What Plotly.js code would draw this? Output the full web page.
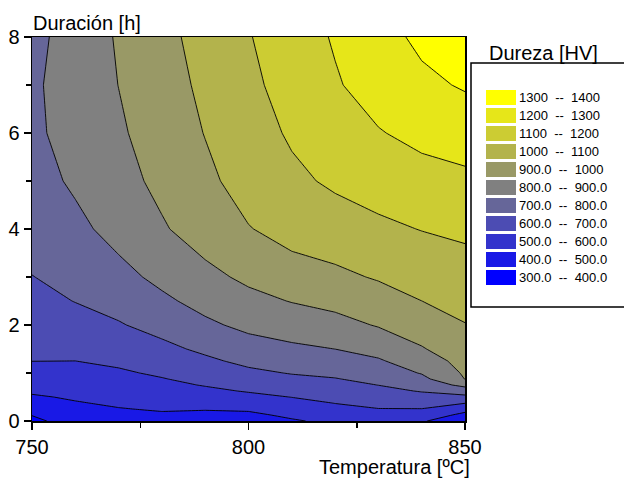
<!DOCTYPE html>
<html><head><meta charset="utf-8">
<script src="https://cdn.plot.ly/plotly-3.0.1.min.js"></script>
<style>html,body{margin:0;padding:0;background:#fff;}#chart{width:624px;height:478px;}</style>
</head><body><div id="chart"></div>
<script>
// Temperatura [ºC] (columns)
const temperatura = [750, 760, 770, 780, 790, 800, 810, 820, 830, 840, 850];
// Duración [h] (rows)
const duracion = [0, 0.125, 0.25, 0.375, 0.5, 0.625, 0.75, 0.875, 1, 1.25, 1.5, 2, 2.5, 3, 4, 5, 6, 7, 8];
// Dureza [HV], one row per duración value, estimated from the contour lines
const dureza = [
  [374, 450, 466, 472, 458, 455, 489.7, 522, 550, 508, 445],
  [403.4, 465, 481, 489.7, 480, 480.9, 517.8, 550, 575, 560, 475],
  [432.4, 480, 496.4, 507.4, 505.5, 512.8, 545.8, 578, 597.8, 598.2, 532.1],
  [461.4, 494.7, 511.7, 525.1, 530.8, 544.7, 573.8, 602, 623.7, 634.1, 603.6],
  [490.3, 509.8, 527, 542.8, 556.1, 576.6, 601.7, 625.5, 649.6, 670, 675.9],
  [512, 524.8, 542.3, 560.5, 581.4, 606.6, 628, 649, 675.4, 705.7, 748.2],
  [530, 539.8, 557.7, 578.2, 605.2, 631.1, 654.1, 672.5, 701.1, 740.2, 825.4],
  [548, 554.9, 573, 595.9, 624.5, 655.7, 680.3, 696.1, 723.3, 774.7, 901.8],
  [566, 569.9, 588.3, 612.4, 643.9, 680.3, 704.9, 717.3, 745.6, 805.8, 912.3],
  [600.8, 599.8, 615.8, 644.6, 682.6, 722.3, 744, 758.8, 790, 849.5, 933.5],
  [614.7, 620.9, 641.5, 676.9, 717.7, 759.4, 783, 800.3, 830.8, 893.1, 954.7],
  [642.4, 662.6, 692.9, 732, 782.3, 823, 846, 868.3, 906.8, 947.8, 997],
  [670.2, 702.5, 732.7, 781.7, 831.4, 873.8, 903.8, 927.7, 959.4, 999.8, 1027.9],
  [698, 727, 770.6, 823.8, 874.7, 918.7, 965, 979.7, 1008.3, 1034.3, 1057.9],
  [743, 775.8, 833.5, 890, 945, 996, 1030.3, 1056.5, 1080.8, 1102.9, 1118.4],
  [762, 814.9, 866.7, 923.6, 980, 1036.7, 1080.5, 1115, 1142.7, 1165.2, 1180.3],
  [781.8, 835, 887, 945, 1003, 1058.8, 1112, 1158.5, 1194.4, 1225.4, 1244.2],
  [784.7, 842.7, 901, 959.8, 1019.3, 1079.6, 1135.7, 1190.9, 1239.7, 1279.6, 1309],
  [772.5, 841.3, 909.2, 972.5, 1034.2, 1094.7, 1152, 1208.9, 1265.3, 1320, 1367]
];
// Contour levels (band edges) and band colours, lowest band first
const niveles = [300, 400, 500, 600, 700, 800, 900, 1000, 1100, 1200, 1300, 1400];
const coloresBanda = ['rgb(0,0,255)', 'rgb(25,25,230)', 'rgb(51,51,204)', 'rgb(76,76,179)',
  'rgb(102,102,153)', 'rgb(128,128,128)', 'rgb(153,153,102)', 'rgb(179,179,76)',
  'rgb(204,204,51)', 'rgb(230,230,25)', 'rgb(255,255,0)'];
const tituloX = 'Temperatura [ºC]';
const tituloY = 'Duración [h]';
const tituloLeyenda = 'Dureza [HV]';

const FONT = 'Liberation Sans, Arial, sans-serif';
const W = 624, H = 478, L = 32, R = 465, T = 37, B = 421;
const px2x = p => (p - L) / (R - L);
const px2y = p => (B - p) / (B - T);

const trace = {
  type: 'contour', x: temperatura, y: duracion, z: dureza,
  autocontour: false,
  contours: {start: niveles[1], end: niveles[niveles.length - 2], size: niveles[1] - niveles[0],
             coloring: 'fill', showlines: true},
  line: {color: '#000', width: 0.9, smoothing: 0},
  colorscale: coloresBanda.map((c, i) => [i / (coloresBanda.length - 1), c]),
  showscale: false, hoverinfo: 'skip'
};

const fmt = v => v.toPrecision(4);
const shapes = [{type: 'rect', xref: 'paper', yref: 'paper',
  x0: px2x(471), x1: px2x(640), y0: px2y(307), y1: px2y(63),
  line: {color: '#000', width: 1.5}, fillcolor: 'rgba(0,0,0,0)'}];
const annotations = [
  {text: tituloY, xref: 'paper', yref: 'paper', x: px2x(31), y: px2y(23), xanchor: 'left', yanchor: 'middle',
   showarrow: false, font: {family: FONT, size: 20, color: '#000'}},
  {text: tituloX, xref: 'paper', yref: 'paper', x: px2x(472), y: px2y(467), xanchor: 'right', yanchor: 'middle',
   showarrow: false, font: {family: FONT, size: 20, color: '#000'}},
  {text: tituloLeyenda, xref: 'paper', yref: 'paper', x: px2x(543), y: px2y(53), xanchor: 'center', yanchor: 'middle',
   showarrow: false, font: {family: FONT, size: 20, color: '#000'}}
];
const nb = coloresBanda.length;
for (let i = 0; i < nb; i++) {
  const k = nb - 1 - i;
  const top = 90 + 18 * i;
  shapes.push({type: 'rect', xref: 'paper', yref: 'paper',
    x0: px2x(486), x1: px2x(516), y0: px2y(top + 15), y1: px2y(top),
    line: {width: 0}, fillcolor: coloresBanda[k]});
  annotations.push({text: fmt(niveles[k]) + '\u00a0\u00a0--\u00a0\u00a0' + fmt(niveles[k + 1]),
    xref: 'paper', yref: 'paper', x: px2x(517), y: px2y(top + 7.5), xanchor: 'left', yanchor: 'middle',
    showarrow: false, font: {family: FONT, size: 13, color: '#000'}});
}

const axisCommon = {
  ticks: 'outside', ticklen: 7, tickwidth: 1.5, tickcolor: '#000',
  showline: true, linecolor: '#000', linewidth: 1.5, mirror: true,
  showgrid: false, zeroline: false,
  tickfont: {family: FONT, size: 20, color: '#000'}
};
const layout = {
  width: W, height: H,
  margin: {l: L, r: W - R, t: T, b: H - B, pad: 0},
  paper_bgcolor: '#fff', plot_bgcolor: '#fff',
  font: {family: FONT, size: 20, color: '#000'},
  showlegend: false,
  xaxis: Object.assign({}, axisCommon, {range: [750, 850], tick0: 750, dtick: 50,
    minor: {dtick: 25, ticks: 'outside', ticklen: 5, tickwidth: 1.5, tickcolor: '#000', showgrid: false}}),
  yaxis: Object.assign({}, axisCommon, {range: [0, 8], tick0: 0, dtick: 2,
    minor: {dtick: 1, ticks: 'outside', ticklen: 5, tickwidth: 1.5, tickcolor: '#000', showgrid: false}}),
  shapes: shapes,
  annotations: annotations
};
Plotly.newPlot('chart', [trace], layout, {staticPlot: true, displayModeBar: false});
</script>
</body></html>
